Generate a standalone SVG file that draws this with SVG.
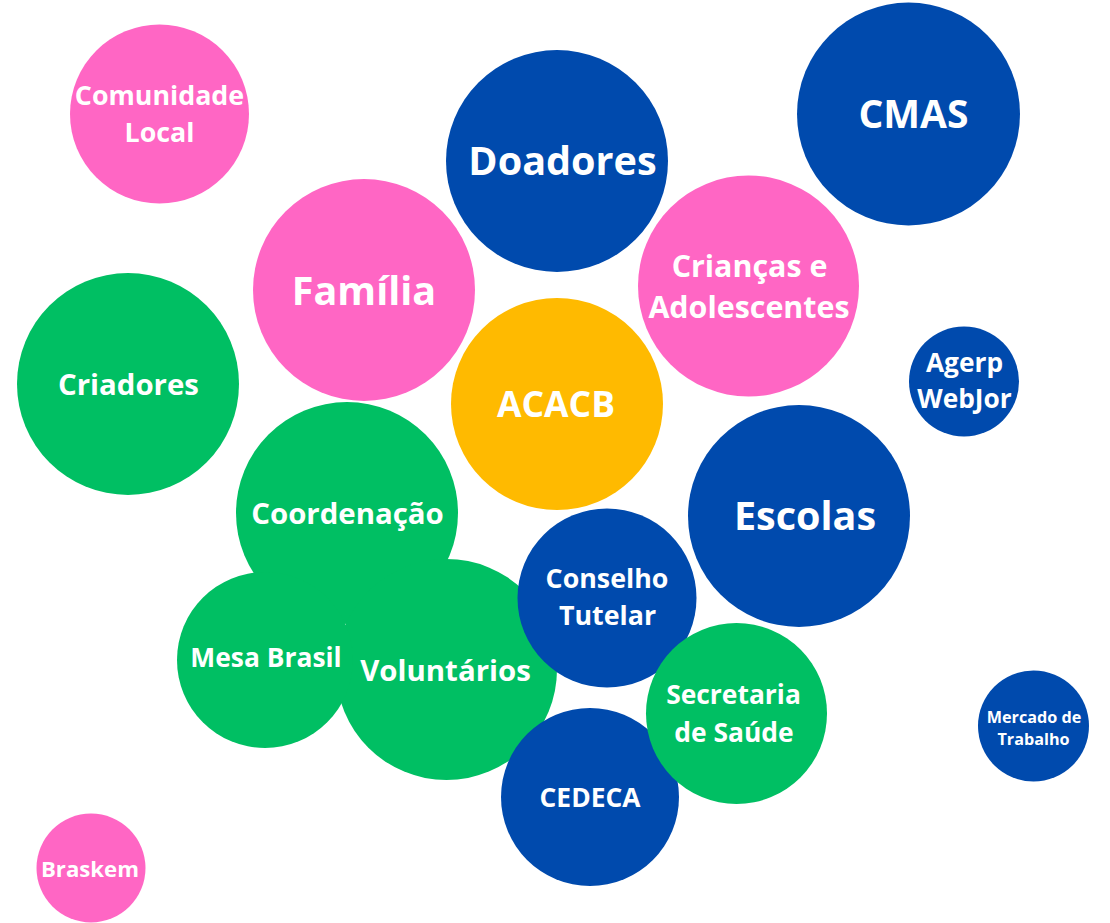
<svg xmlns="http://www.w3.org/2000/svg" width="1110" height="923" viewBox="0 0 1110 923">
<style>
.pink{fill:#FF66C4}
.blue{fill:#004AAD}
.green{fill:#00BF63}
.yellow{fill:#FFBA00}
text{font-family:"Open Sans","Noto Sans","Liberation Sans",sans-serif;font-weight:700;fill:#FFFFFF;text-anchor:middle}
</style>
<rect width="1110" height="923" fill="#FFFFFF"/>
<g id="connectors"/>
<g id="comunidade-local">
<circle class="pink" cx="159.5" cy="114" r="89.5"/>
<text x="159.5" y="105" font-size="26.8">Comunidade</text>
<text x="159.5" y="142" font-size="26.8">Local</text>
</g>
<g id="doadores">
<circle class="blue" cx="557" cy="161" r="111"/>
<text x="562.5" y="175" font-size="39.6">Doadores</text>
</g>
<g id="cmas">
<circle class="blue" cx="908.5" cy="114" r="111.5"/>
<text x="913.5" y="128" font-size="39">CMAS</text>
</g>
<g id="familia">
<circle class="pink" cx="364" cy="290" r="111"/>
<text x="364" y="305" font-size="39.5">Família</text>
</g>
<g id="criancas">
<circle class="pink" cx="748.5" cy="286" r="110.5"/>
<text x="749.5" y="277" font-size="30.4">Crianças e</text>
<text x="749" y="318" font-size="30.4">Adolescentes</text>
</g>
<g id="criadores">
<circle class="green" cx="128" cy="384" r="111"/>
<text x="128.5" y="395" font-size="29.4">Criadores</text>
</g>
<g id="acacb">
<circle class="yellow" cx="557" cy="404" r="106"/>
<text x="556" y="417" font-size="35.5">ACACB</text>
</g>
<g id="agerp-webjor">
<circle class="blue" cx="964" cy="381.5" r="55"/>
<text x="964.5" y="372" font-size="26.3">Agerp</text>
<text x="964.5" y="408" font-size="26.3">WebJor</text>
</g>
<g id="escolas">
<circle class="blue" cx="799" cy="516" r="111"/>
<text x="805" y="530" font-size="39.5">Escolas</text>
</g>
<g id="coordenacao">
<circle class="green" cx="347" cy="513" r="111"/>
<text x="347.5" y="524" font-size="29.4">Coordenação</text>
</g>
<g id="voluntarios">
<circle class="green" cx="446.5" cy="669.5" r="110.5"/>
<text x="445.5" y="681" font-size="29.4">Voluntários</text>
</g>
<g id="mesa-brasil">
<circle class="green" cx="265" cy="660" r="88"/>
<text x="266" y="667" font-size="26.4">Mesa Brasil</text>
</g>
<g id="conselho-tutelar">
<circle class="blue" cx="607" cy="598" r="89.5"/>
<text x="607" y="588" font-size="26.8">Conselho</text>
<text x="607.5" y="625" font-size="26.8">Tutelar</text>
</g>
<g id="cedeca">
<circle class="blue" cx="590" cy="797" r="89"/>
<text x="590" y="807" font-size="26.4">CEDECA</text>
</g>
<g id="secretaria-saude">
<circle class="green" cx="736.5" cy="713.5" r="90.5"/>
<text x="733.5" y="704" font-size="26.4">Secretaria</text>
<text x="734" y="742" font-size="26.4">de Saúde</text>
</g>
<g id="mercado-trabalho">
<circle class="blue" cx="1033.5" cy="726" r="55.5"/>
<text x="1034" y="723" font-size="16.2">Mercado de</text>
<text x="1033.5" y="745" font-size="16.2">Trabalho</text>
</g>
<g id="braskem">
<circle class="pink" cx="91" cy="868" r="54.5"/>
<text x="90" y="877" font-size="22.2">Braskem</text>
</g>
</svg>
